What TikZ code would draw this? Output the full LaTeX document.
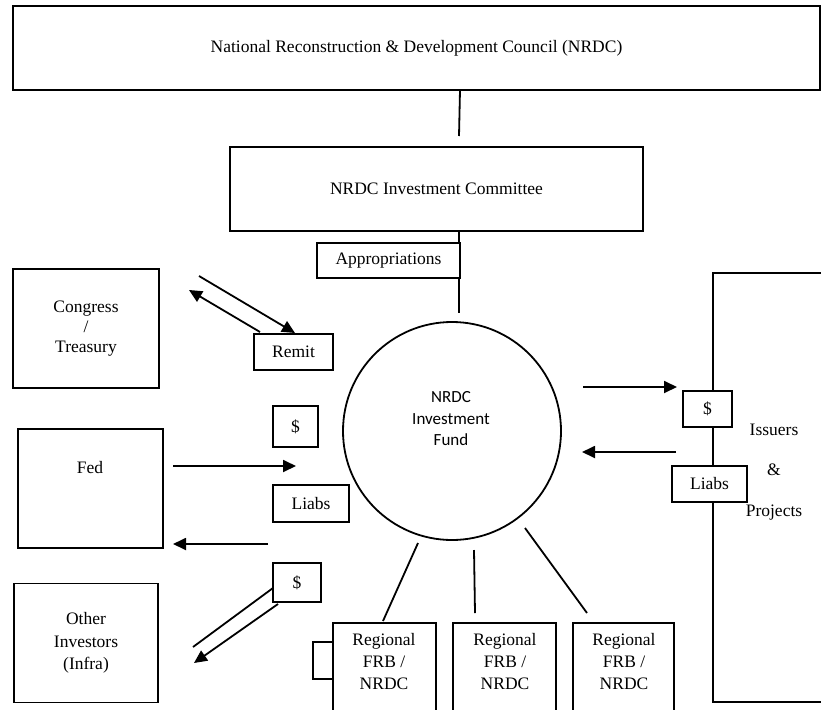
\documentclass[tikz,border=0pt]{standalone}
\usepackage{fontspec}
\setmainfont{Liberation Serif}
\newfontfamily\sansf{Carlito}
\usetikzlibrary{arrows.meta}
\begin{document}
\begin{tikzpicture}[x=1pt,y=-1pt,
  every node/.style={font=\fontsize{17.5}{22}\selectfont},
  box/.style={draw, line width=1.8pt, fill=white, rectangle, inner sep=0pt, align=center},
  lbl/.style={align=center, inner sep=0pt},
  conn/.style={line width=1.8pt},
  arr/.style={line width=1.8pt, -{Triangle[length=13pt,width=12pt]}}]
\useasboundingbox (0,0) rectangle (821,709);
\clip (0,0) rectangle (821,709);

% top boxes
\node[box, minimum width=807, minimum height=84] (council) at (416.5,48) {National Reconstruction \& Development Council (NRDC)};
\node[box, minimum width=413, minimum height=84] (committee) at (436.5,189) {NRDC Investment Committee};
\coordinate (c1) at (460,90);
\coordinate (c2) at (459,136);
\draw[conn] (c1) -- (c2);

% fund
\node[draw, circle, line width=1.8pt, minimum size=218, inner sep=0pt] (fund) at (452,431) {};
\node[lbl, font=\sansf\fontsize{17}{21.5}\selectfont] (fundtxt) at (451,419) {NRDC\\Investment\\Fund};
\coordinate (c3) at (459,231);
\coordinate (c4) at (459,313);
\draw[conn] (c3) -- (c4);
\node[box, minimum width=143, minimum height=35] (approp) at (388.5,260.5) {Appropriations};

% left side
\node[box, minimum width=146, minimum height=119, font=\fontsize{17.5}{20}\selectfont] (congress) at (86,328.5) {Congress\\/\\Treasury};
\node[box, minimum width=79, minimum height=36] (remit) at (293.5,352) {Remit};
\coordinate (r1a) at (199,276);
\coordinate (r1b) at (295,333);
\coordinate (r2a) at (260,332);
\coordinate (r2b) at (189,290);
\draw[arr] (r1a) -- (r1b);
\draw[arr] (r2a) -- (r2b);

\node[box, minimum width=145, minimum height=119] (fed) at (90.5,488.5) {};
\node[lbl] (fedtxt) at (90,468) {Fed};
\node[box, minimum width=45, minimum height=41] (dol1) at (295.5,426.5) {\$};
\node[box, minimum width=76, minimum height=37] (liabs1) at (311,503.5) {Liabs};
\coordinate (f1a) at (173,466);
\coordinate (f1b) at (296,466);
\coordinate (f2a) at (268,544);
\coordinate (f2b) at (173,544);
\draw[arr] (f1a) -- (f1b);
\draw[arr] (f2a) -- (f2b);

\node[box, minimum width=144, minimum height=119, font=\fontsize{17.5}{22.5}\selectfont] (other) at (86,643) {Other\\Investors\\(Infra)};
\node[box, minimum width=48, minimum height=39] (dol2) at (297,582.5) {\$};
\coordinate (o1a) at (273,588);
\coordinate (o1b) at (193,647);
\coordinate (o2a) at (278,604);
\coordinate (o2b) at (194,663);
\draw[conn] (o1a) -- (o1b);
\draw[arr] (o2a) -- (o2b);

% regional boxes
\node[box, minimum width=103, minimum height=110, anchor=north] (reg1) at (384.5,622) {};
\node[box, minimum width=20, minimum height=37] (side) at (323,660.5) {};
\node[box, minimum width=103, minimum height=110, anchor=north] (reg2) at (504.5,622) {};
\node[box, minimum width=101, minimum height=110, anchor=north] (reg3) at (623.5,622) {};
\node[lbl] (reg1txt) at (384,662) {Regional\\FRB /\\NRDC};
\node[lbl] (reg2txt) at (505,662) {Regional\\FRB /\\NRDC};
\node[lbl] (reg3txt) at (624,662) {Regional\\FRB /\\NRDC};
\coordinate (g1a) at (418,543);
\coordinate (g1b) at (383,621);
\coordinate (g2a) at (474,550);
\coordinate (g2b) at (475,613);
\coordinate (g3a) at (525,528);
\coordinate (g3b) at (587,613);
\draw[conn] (g1a) -- (g1b);
\draw[conn] (g2a) -- (g2b);
\draw[conn] (g3a) -- (g3b);

% right side
\node[box, minimum width=120, minimum height=429] (issuers) at (773,487.5) {};
\node[lbl, font=\fontsize{17.5}{40.5}\selectfont] (isstxt) at (774,472) {Issuers\\\&\\Projects};
\node[box, minimum width=49, minimum height=36] (dol3) at (707.5,409) {\$};
\node[box, minimum width=75, minimum height=36] (liabs3) at (709.5,484) {Liabs};
\coordinate (i1a) at (583,387);
\coordinate (i1b) at (677,387);
\coordinate (i2a) at (676,452);
\coordinate (i2b) at (582,452);
\draw[arr] (i1a) -- (i1b);
\draw[arr] (i2a) -- (i2b);
\end{tikzpicture}
\end{document}
